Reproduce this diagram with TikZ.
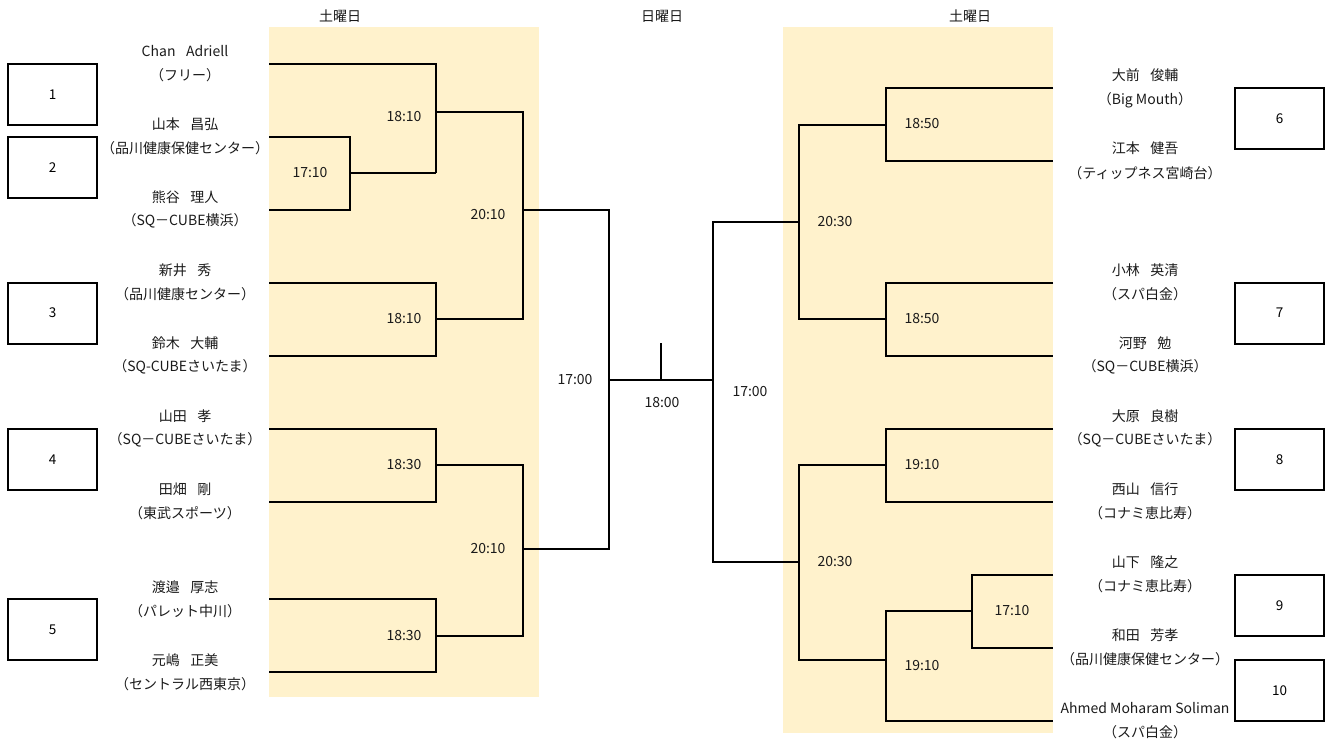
\documentclass[tikz,border=0pt]{standalone}
\usepackage{fontspec}
\setmainfont{Noto Sans CJK JP}
\definecolor{bgyellow}{HTML}{FFF2CC}
\definecolor{ink}{HTML}{1A1A1A}
\newcommand{\gp}{\hspace{0.75em}}
\begin{document}
\begin{tikzpicture}[x=1pt,y=-1pt,
  txt/.style={inner sep=0pt, text=ink, font=\fontsize{14}{16}\selectfont},
  seed/.style={draw, line width=2pt, minimum width=89pt, minimum height=61pt, inner sep=0pt, font=\fontsize{13.5}{16}\selectfont},
  br/.style={draw, line width=2pt}]
\useasboundingbox (0,0) rectangle (1333,744);
\fill[bgyellow] (269,27) rectangle (539,697);
\fill[bgyellow] (783,27) rectangle (1053,733);

% headers
\node[txt] (h1) at (340,16) {土曜日};
\node[txt] (h2) at (662,16) {日曜日};
\node[txt] (h3) at (970,16) {土曜日};

% seed boxes
\node[seed] (s1) at (52.5,94.5) {1};
\node[seed] (s2) at (52.5,167.5) {2};
\node[seed] (s3) at (52.5,313) {3};
\node[seed] (s4) at (52.5,459.5) {4};
\node[seed] (s5) at (52.5,629.5) {5};
\node[seed] (s6) at (1279.5,118.5) {6};
\node[seed] (s7) at (1279.5,313) {7};
\node[seed] (s8) at (1279.5,459.5) {8};
\node[seed] (s9) at (1279.5,605.5) {9};
\node[seed] (s10) at (1279.5,690.5) {10};

% left names
\node[txt] (p1a) at (185,51) {Chan\gp Adriell};
\node[txt] (p1b) at (185,75) {（フリー）};
\node[txt] (p2a) at (185,124) {山本\gp 昌弘};
\node[txt] (p2b) at (185,148) {（品川健康保健センター）};
\node[txt] (p3a) at (185,197) {熊谷\gp 理人};
\node[txt] (p3b) at (185,221) {（SQ－CUBE横浜）};
\node[txt] (p4a) at (185,270) {新井\gp 秀};
\node[txt] (p4b) at (185,294) {（品川健康センター）};
\node[txt] (p5a) at (185,343) {鈴木\gp 大輔};
\node[txt] (p5b) at (185,367) {（SQ-CUBEさいたま）};
\node[txt] (p6a) at (185,416) {山田\gp 孝};
\node[txt] (p6b) at (185,440) {（SQ－CUBEさいたま）};
\node[txt] (p7a) at (185,489) {田畑\gp 剛};
\node[txt] (p7b) at (185,513) {（東武スポーツ）};
\node[txt] (p8a) at (185,587) {渡邉\gp 厚志};
\node[txt] (p8b) at (185,611) {（パレット中川）};
\node[txt] (p9a) at (185,660) {元嶋\gp 正美};
\node[txt] (p9b) at (185,684) {（セントラル西東京）};

% right names
\node[txt] (q1a) at (1145,75) {大前\gp 俊輔};
\node[txt] (q1b) at (1145,100) {（Big Mouth）};
\node[txt] (q2a) at (1145,148) {江本\gp 健吾};
\node[txt] (q2b) at (1145,173) {（ティップネス宮崎台）};
\node[txt] (q3a) at (1145,270) {小林\gp 英清};
\node[txt] (q3b) at (1145,294) {（スパ白金）};
\node[txt] (q4a) at (1145,343) {河野\gp 勉};
\node[txt] (q4b) at (1145,367) {（SQ－CUBE横浜）};
\node[txt] (q5a) at (1145,416) {大原\gp 良樹};
\node[txt] (q5b) at (1145,440) {（SQ－CUBEさいたま）};
\node[txt] (q6a) at (1145,489) {西山\gp 信行};
\node[txt] (q6b) at (1145,513) {（コナミ恵比寿）};
\node[txt] (q7a) at (1145,562) {山下\gp 隆之};
\node[txt] (q7b) at (1145,586) {（コナミ恵比寿）};
\node[txt] (q8a) at (1145,635) {和田\gp 芳孝};
\node[txt] (q8b) at (1145,659) {（品川健康保健センター）};
\node[txt] (q9a) at (1145,708) {Ahmed Moharam Soliman};
\node[txt] (q9b) at (1145,732) {（スパ白金）};

% left bracket
\draw[br] (269,64) -- (436,64) -- (436,173);
\draw[br] (269,137) -| (350,210) -- (269,210);
\draw[br] (350,173) -- (436,173);
\draw[br] (436,112) -- (523,112) -- (523,319) -- (436,319);
\draw[br] (269,283) -| (436,356) -- (269,356);
\draw[br] (523,210) -- (609,210) -- (609,549) -- (523,549);
\draw[br] (269,429) -| (436,502) -- (269,502);
\draw[br] (436,465) -- (523,465) -- (523,636) -- (436,636);
\draw[br] (269,599) -| (436,672) -- (269,672);

% final
\draw[br] (609,380) -- (713,380);
\draw[br] (661,343) -- (661,380);

% right bracket
\draw[br] (799,222) -- (713,222) -- (713,562) -- (799,562);
\draw[br] (886,125) -- (799,125) -- (799,319) -- (886,319);
\draw[br] (1053,88) -| (886,161) -- (1053,161);
\draw[br] (1053,283) -| (886,356) -- (1053,356);
\draw[br] (886,465) -- (799,465) -- (799,660) -- (886,660);
\draw[br] (1053,429) -| (886,502) -- (1053,502);
\draw[br] (972,611) -- (886,611) -- (886,721) -- (1053,721);
\draw[br] (1053,575) -| (972,648) -- (1053,648);

% time labels
\node[txt] (t1) at (404,117) {18:10};
\node[txt] (t2) at (310,173) {17:10};
\node[txt] (t3) at (404,319) {18:10};
\node[txt] (t4) at (488,215) {20:10};
\node[txt] (t5) at (404,465) {18:30};
\node[txt] (t6) at (404,636) {18:30};
\node[txt] (t7) at (488,549) {20:10};
\node[txt] (t8) at (575,380) {17:00};
\node[txt] (t9) at (662,403) {18:00};
\node[txt] (t10) at (750,392) {17:00};
\node[txt] (t11) at (835,222) {20:30};
\node[txt] (t12) at (922,124) {18:50};
\node[txt] (t13) at (922,319) {18:50};
\node[txt] (t14) at (835,562) {20:30};
\node[txt] (t15) at (922,465) {19:10};
\node[txt] (t16) at (1012,611) {17:10};
\node[txt] (t17) at (922,666) {19:10};
\end{tikzpicture}
\end{document}
